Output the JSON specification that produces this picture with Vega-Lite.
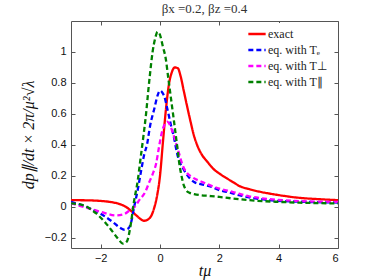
{
"$schema": "https://vega.github.io/schema/vega-lite/v6.json",
"width": 267, "height": 227,
"autosize": {"type": "none"},
"padding": {"left": 71, "top": 21, "right": 35, "bottom": 32},
"background": "white",
"title": {"text": "βx =0.2, βz =0.4", "font": "Liberation Serif", "fontSize": 13, "fontWeight": "normal", "color": "#333", "offset": 5, "anchor": "middle"},
"config": {"view": {"stroke": "#555", "strokeWidth": 1}, "axis": {"grid": false, "domain": false, "tickColor": "#555", "labelColor": "#111", "labelFont": "Liberation Sans", "labelFontSize": 11}},
"data": {"values": [
{"s":"exact","x":-3,"y":0.043},{"s":"exact","x":-2.5,"y":0.042},{"s":"exact","x":-2,"y":0.038},{"s":"exact","x":-1.7,"y":0.032},{"s":"exact","x":-1.4,"y":0.02},{"s":"exact","x":-1.15,"y":0.0},{"s":"exact","x":-0.95,"y":-0.03},{"s":"exact","x":-0.8,"y":-0.055},{"s":"exact","x":-0.65,"y":-0.08},{"s":"exact","x":-0.53,"y":-0.09},{"s":"exact","x":-0.42,"y":-0.083},{"s":"exact","x":-0.3,"y":-0.06},{"s":"exact","x":-0.2,"y":-0.01},{"s":"exact","x":-0.1,"y":0.07},{"s":"exact","x":0.0,"y":0.2},{"s":"exact","x":0.1,"y":0.42},{"s":"exact","x":0.2,"y":0.63},{"s":"exact","x":0.3,"y":0.79},{"s":"exact","x":0.4,"y":0.87},{"s":"exact","x":0.5,"y":0.9},{"s":"exact","x":0.6,"y":0.895},{"s":"exact","x":0.7,"y":0.84},{"s":"exact","x":0.8,"y":0.75},{"s":"exact","x":0.93,"y":0.635},{"s":"exact","x":1.03,"y":0.55},{"s":"exact","x":1.13,"y":0.47},{"s":"exact","x":1.25,"y":0.4},{"s":"exact","x":1.4,"y":0.34},{"s":"exact","x":1.6,"y":0.29},{"s":"exact","x":1.8,"y":0.245},{"s":"exact","x":2.0,"y":0.215},{"s":"exact","x":2.2,"y":0.19},{"s":"exact","x":2.5,"y":0.155},{"s":"exact","x":2.67,"y":0.135},{"s":"exact","x":3.0,"y":0.115},{"s":"exact","x":3.3,"y":0.1},{"s":"exact","x":3.68,"y":0.086},{"s":"exact","x":4.2,"y":0.07},{"s":"exact","x":4.7,"y":0.058},{"s":"exact","x":5.3,"y":0.05},{"s":"exact","x":6,"y":0.043},
{"s":"eq. with Tₑ","x":-3,"y":0.032},{"s":"eq. with Tₑ","x":-2.5,"y":0.0},{"s":"eq. with Tₑ","x":-2.0,"y":-0.045},{"s":"eq. with Tₑ","x":-1.6,"y":-0.097},{"s":"eq. with Tₑ","x":-1.35,"y":-0.135},{"s":"eq. with Tₑ","x":-1.2,"y":-0.148},{"s":"eq. with Tₑ","x":-1.07,"y":-0.14},{"s":"eq. with Tₑ","x":-0.98,"y":-0.105},{"s":"eq. with Tₑ","x":-0.87,"y":0.0},{"s":"eq. with Tₑ","x":-0.75,"y":0.11},{"s":"eq. with Tₑ","x":-0.63,"y":0.24},{"s":"eq. with Tₑ","x":-0.53,"y":0.34},{"s":"eq. with Tₑ","x":-0.44,"y":0.4},{"s":"eq. with Tₑ","x":-0.33,"y":0.527},{"s":"eq. with Tₑ","x":-0.19,"y":0.635},{"s":"eq. with Tₑ","x":-0.08,"y":0.72},{"s":"eq. with Tₑ","x":0.0,"y":0.75},{"s":"eq. with Tₑ","x":0.07,"y":0.74},{"s":"eq. with Tₑ","x":0.15,"y":0.71},{"s":"eq. with Tₑ","x":0.25,"y":0.63},{"s":"eq. with Tₑ","x":0.37,"y":0.527},{"s":"eq. with Tₑ","x":0.48,"y":0.44},{"s":"eq. with Tₑ","x":0.56,"y":0.36},{"s":"eq. with Tₑ","x":0.64,"y":0.3},{"s":"eq. with Tₑ","x":0.76,"y":0.255},{"s":"eq. with Tₑ","x":0.88,"y":0.215},{"s":"eq. with Tₑ","x":1.15,"y":0.16},{"s":"eq. with Tₑ","x":1.4,"y":0.145},{"s":"eq. with Tₑ","x":1.72,"y":0.13},{"s":"eq. with Tₑ","x":2.0,"y":0.108},{"s":"eq. with Tₑ","x":2.39,"y":0.09},{"s":"eq. with Tₑ","x":2.67,"y":0.075},{"s":"eq. with Tₑ","x":3.2,"y":0.055},{"s":"eq. with Tₑ","x":3.68,"y":0.043},{"s":"eq. with Tₑ","x":4.69,"y":0.033},{"s":"eq. with Tₑ","x":6,"y":0.028},
{"s":"eq. with T⊥","x":-3,"y":0.022},{"s":"eq. with T⊥","x":-2.4,"y":-0.01},{"s":"eq. with T⊥","x":-1.93,"y":-0.036},{"s":"eq. with T⊥","x":-1.5,"y":-0.056},{"s":"eq. with T⊥","x":-1.25,"y":-0.05},{"s":"eq. with T⊥","x":-1.0,"y":-0.02},{"s":"eq. with T⊥","x":-0.85,"y":0.0},{"s":"eq. with T⊥","x":-0.7,"y":0.043},{"s":"eq. with T⊥","x":-0.5,"y":0.095},{"s":"eq. with T⊥","x":-0.36,"y":0.16},{"s":"eq. with T⊥","x":-0.25,"y":0.21},{"s":"eq. with T⊥","x":-0.13,"y":0.28},{"s":"eq. with T⊥","x":-0.03,"y":0.39},{"s":"eq. with T⊥","x":0.05,"y":0.47},{"s":"eq. with T⊥","x":0.15,"y":0.53},{"s":"eq. with T⊥","x":0.24,"y":0.55},{"s":"eq. with T⊥","x":0.33,"y":0.53},{"s":"eq. with T⊥","x":0.43,"y":0.48},{"s":"eq. with T⊥","x":0.54,"y":0.41},{"s":"eq. with T⊥","x":0.65,"y":0.34},{"s":"eq. with T⊥","x":0.76,"y":0.27},{"s":"eq. with T⊥","x":0.88,"y":0.226},{"s":"eq. with T⊥","x":1.1,"y":0.19},{"s":"eq. with T⊥","x":1.43,"y":0.16},{"s":"eq. with T⊥","x":2.0,"y":0.118},{"s":"eq. with T⊥","x":2.44,"y":0.097},{"s":"eq. with T⊥","x":3.0,"y":0.068},{"s":"eq. with T⊥","x":3.68,"y":0.05},{"s":"eq. with T⊥","x":4.69,"y":0.037},{"s":"eq. with T⊥","x":6,"y":0.032},
{"s":"eq. with T∥","x":-3,"y":0.022},{"s":"eq. with T∥","x":-2.6,"y":0.011},{"s":"eq. with T∥","x":-2.15,"y":-0.043},{"s":"eq. with T∥","x":-1.82,"y":-0.107},{"s":"eq. with T∥","x":-1.6,"y":-0.16},{"s":"eq. with T∥","x":-1.4,"y":-0.21},{"s":"eq. with T∥","x":-1.25,"y":-0.238},{"s":"eq. with T∥","x":-1.12,"y":-0.225},{"s":"eq. with T∥","x":-1.0,"y":-0.13},{"s":"eq. with T∥","x":-0.88,"y":0.03},{"s":"eq. with T∥","x":-0.75,"y":0.17},{"s":"eq. with T∥","x":-0.65,"y":0.32},{"s":"eq. with T∥","x":-0.55,"y":0.47},{"s":"eq. with T∥","x":-0.47,"y":0.6},{"s":"eq. with T∥","x":-0.4,"y":0.74},{"s":"eq. with T∥","x":-0.33,"y":0.87},{"s":"eq. with T∥","x":-0.25,"y":1.0},{"s":"eq. with T∥","x":-0.16,"y":1.09},{"s":"eq. with T∥","x":-0.08,"y":1.13},{"s":"eq. with T∥","x":0.0,"y":1.11},{"s":"eq. with T∥","x":0.09,"y":1.04},{"s":"eq. with T∥","x":0.2,"y":0.95},{"s":"eq. with T∥","x":0.28,"y":0.83},{"s":"eq. with T∥","x":0.37,"y":0.7},{"s":"eq. with T∥","x":0.46,"y":0.57},{"s":"eq. with T∥","x":0.54,"y":0.45},{"s":"eq. with T∥","x":0.6,"y":0.36},{"s":"eq. with T∥","x":0.65,"y":0.28},{"s":"eq. with T∥","x":0.71,"y":0.215},{"s":"eq. with T∥","x":0.8,"y":0.14},{"s":"eq. with T∥","x":0.88,"y":0.108},{"s":"eq. with T∥","x":1.0,"y":0.09},{"s":"eq. with T∥","x":1.15,"y":0.082},{"s":"eq. with T∥","x":1.72,"y":0.069},{"s":"eq. with T∥","x":2.0,"y":0.064},{"s":"eq. with T∥","x":2.39,"y":0.055},{"s":"eq. with T∥","x":3.0,"y":0.043},{"s":"eq. with T∥","x":4.0,"y":0.032},{"s":"eq. with T∥","x":4.69,"y":0.027},{"s":"eq. with T∥","x":6,"y":0.022}
]},
"layer": [
{"mark": {"type": "line", "interpolate": "monotone", "strokeWidth": 2.3, "clip": true},
 "encoding": {
  "x": {"field": "x", "type": "quantitative", "scale": {"domain": [-3, 6], "nice": false, "zero": false},
   "axis": {"orient": "bottom", "values": [-2, 0, 2, 4, 6], "tickSize": -4, "labelPadding": 8, "title": "tμ", "titleFont": "Liberation Serif", "titleFontStyle": "italic", "titleFontWeight": "normal", "titleFontSize": 16, "titlePadding": -1, "titleColor": "#111"}},
  "y": {"field": "y", "type": "quantitative", "scale": {"domain": [-0.266, 1.2], "nice": false, "zero": false},
   "axis": {"orient": "left", "values": [-0.2, 0, 0.2, 0.4, 0.6, 0.8, 1], "format": "~g", "tickSize": -4, "labelPadding": 9, "title": "dp∥/dt × 2π/μ²√λ", "titleFont": "Liberation Serif", "titleFontStyle": "italic", "titleFontWeight": "normal", "titleFontSize": 16, "titlePadding": 8, "titleColor": "#111"}},
  "color": {"field": "s", "type": "nominal", "sort": null,
   "scale": {"domain": ["exact", "eq. with Tₑ", "eq. with T⊥", "eq. with T∥"], "range": ["#ff0000", "#0000ff", "#ff00ff", "#008000"]},
   "legend": {"title": null, "orient": "none", "legendX": 175, "legendY": 2, "symbolType": "stroke", "symbolSize": 300, "symbolStrokeWidth": 2.3, "labelFont": "Liberation Serif", "labelFontSize": 12, "labelColor": "#222", "rowPadding": -8, "fillColor": "white", "padding": 1, "labelOffset": 1}},
  "strokeDash": {"field": "s", "type": "nominal", "sort": null,
   "scale": {"domain": ["exact", "eq. with Tₑ", "eq. with T⊥", "eq. with T∥"], "range": [[1, 0], [5, 3], [5, 3], [5, 3]]},
   "legend": {"title": null}},
  "order": {"field": "x", "type": "quantitative"}
 }},
{"mark": {"type": "point", "opacity": 0},
 "encoding": {
  "x": {"field": "x", "type": "quantitative", "axis": {"orient": "top", "values": [-2, 0, 2, 4, 6], "tickSize": -4, "labels": false, "title": null}},
  "y": {"field": "y", "type": "quantitative", "axis": {"orient": "right", "values": [-0.2, 0, 0.2, 0.4, 0.6, 0.8, 1], "tickSize": -4, "labels": false, "title": null}}
 }}
],
"resolve": {"axis": {"x": "independent", "y": "independent"}}
}
